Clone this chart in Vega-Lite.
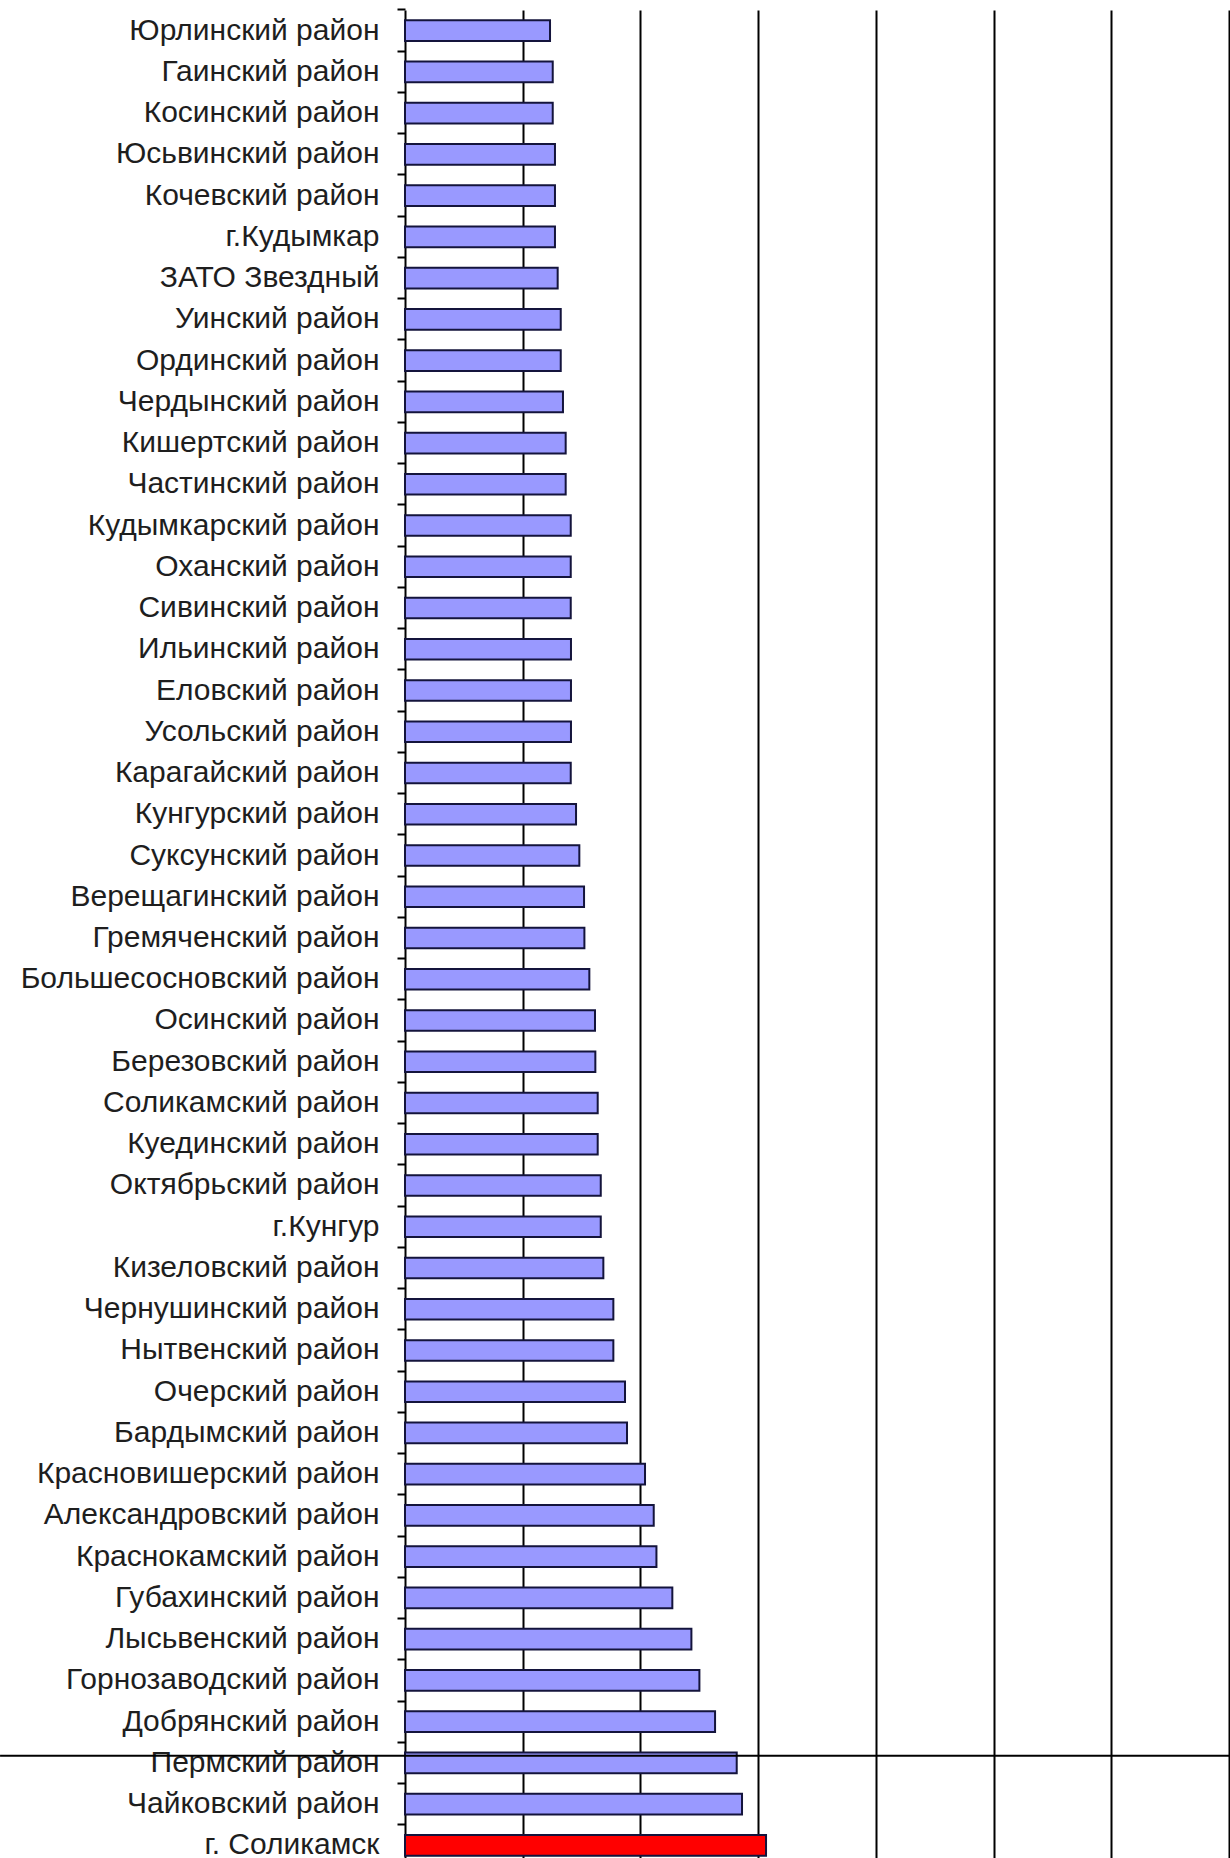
{
  "$schema": "https://vega.github.io/schema/vega-lite/v6.json",
  "autosize": "none",
  "padding": {"left": 405, "top": 10, "right": 1, "bottom": 0},
  "width": 824,
  "height": 1856,
  "background": "#ffffff",
  "config": {
    "view": {"stroke": null},
    "font": "Liberation Sans"
  },
  "layer": [
    {
      "data": {
        "values": [
          {"name": "Юрлинский район", "v": 1.232, "g": "прочие"},
          {"name": "Гаинский район", "v": 1.255, "g": "прочие"},
          {"name": "Косинский район", "v": 1.255, "g": "прочие"},
          {"name": "Юсьвинский район", "v": 1.274, "g": "прочие"},
          {"name": "Кочевский район", "v": 1.274, "g": "прочие"},
          {"name": "г.Кудымкар", "v": 1.274, "g": "прочие"},
          {"name": "ЗАТО Звездный", "v": 1.297, "g": "прочие"},
          {"name": "Уинский район", "v": 1.323, "g": "прочие"},
          {"name": "Ординский район", "v": 1.323, "g": "прочие"},
          {"name": "Чердынский район", "v": 1.342, "g": "прочие"},
          {"name": "Кишертский район", "v": 1.365, "g": "прочие"},
          {"name": "Частинский район", "v": 1.365, "g": "прочие"},
          {"name": "Кудымкарский район", "v": 1.408, "g": "прочие"},
          {"name": "Оханский район", "v": 1.408, "g": "прочие"},
          {"name": "Сивинский район", "v": 1.408, "g": "прочие"},
          {"name": "Ильинский район", "v": 1.41, "g": "прочие"},
          {"name": "Еловский район", "v": 1.41, "g": "прочие"},
          {"name": "Усольский район", "v": 1.41, "g": "прочие"},
          {"name": "Карагайский район", "v": 1.408, "g": "прочие"},
          {"name": "Кунгурский район", "v": 1.453, "g": "прочие"},
          {"name": "Суксунский район", "v": 1.481, "g": "прочие"},
          {"name": "Верещагинский район", "v": 1.521, "g": "прочие"},
          {"name": "Гремяченский район", "v": 1.524, "g": "прочие"},
          {"name": "Большесосновский район", "v": 1.566, "g": "прочие"},
          {"name": "Осинский район", "v": 1.614, "g": "прочие"},
          {"name": "Березовский район", "v": 1.617, "g": "прочие"},
          {"name": "Соликамский район", "v": 1.637, "g": "прочие"},
          {"name": "Куединский район", "v": 1.637, "g": "прочие"},
          {"name": "Октябрьский район", "v": 1.663, "g": "прочие"},
          {"name": "г.Кунгур", "v": 1.663, "g": "прочие"},
          {"name": "Кизеловский район", "v": 1.685, "g": "прочие"},
          {"name": "Чернушинский район", "v": 1.77, "g": "прочие"},
          {"name": "Нытвенский район", "v": 1.77, "g": "прочие"},
          {"name": "Очерский район", "v": 1.869, "g": "прочие"},
          {"name": "Бардымский район", "v": 1.886, "g": "прочие"},
          {"name": "Красновишерский район", "v": 2.039, "g": "прочие"},
          {"name": "Александровский район", "v": 2.113, "g": "прочие"},
          {"name": "Краснокамский район", "v": 2.136, "g": "прочие"},
          {"name": "Губахинский район", "v": 2.271, "g": "прочие"},
          {"name": "Лысьвенский район", "v": 2.433, "g": "прочие"},
          {"name": "Горнозаводский район", "v": 2.501, "g": "прочие"},
          {"name": "Добрянский район", "v": 2.634, "g": "прочие"},
          {"name": "Пермский район", "v": 2.818, "g": "прочие"},
          {"name": "Чайковский район", "v": 2.863, "g": "прочие"},
          {"name": "г. Соликамск", "v": 3.067, "g": "г.Соликамск"}
        ]
      },
      "mark": {"type": "bar", "stroke": "#14143c", "strokeWidth": 2, "height": {"band": 0.5}},
      "encoding": {
        "y": {
          "field": "name",
          "type": "nominal",
          "sort": null,
          "scale": {"paddingInner": 0, "paddingOuter": 0},
          "axis": {
            "title": null,
            "bandPosition": 0,
            "domainColor": "#000000",
            "domainWidth": 2,
            "tickColor": "#000000",
            "tickWidth": 2,
            "tickSize": 8,
            "labelPadding": 18,
            "labelFont": "Liberation Sans",
            "labelFontSize": 30,
            "labelColor": "#1e1e1e",
            "labelLimit": 500,
            "grid": false
          }
        },
        "x": {
          "field": "v",
          "type": "quantitative",
          "scale": {"domain": [0, 7], "nice": false, "zero": true},
          "axis": {
            "orient": "top",
            "title": null,
            "labels": false,
            "ticks": false,
            "domain": false,
            "grid": true,
            "values": [1, 2, 3, 4, 5, 6, 7],
            "gridColor": "#000000",
            "gridWidth": 2,
            "gridOpacity": 1
          }
        },
        "color": {
          "field": "g",
          "type": "nominal",
          "scale": {"domain": ["прочие", "г.Соликамск"], "range": ["#9999ff", "#ff0000"]},
          "legend": null
        }
      }
    },
    {
      "data": {"values": [{"name": "Пермский район", "a": -3.44, "b": 7.01}]},
      "mark": {"type": "rule", "color": "#000000", "strokeWidth": 2, "clip": false},
      "encoding": {
        "y": {"field": "name", "type": "nominal", "sort": null, "bandPosition": 0.325},
        "x": {"field": "a", "type": "quantitative"},
        "x2": {"field": "b"}
      }
    }
  ]
}
